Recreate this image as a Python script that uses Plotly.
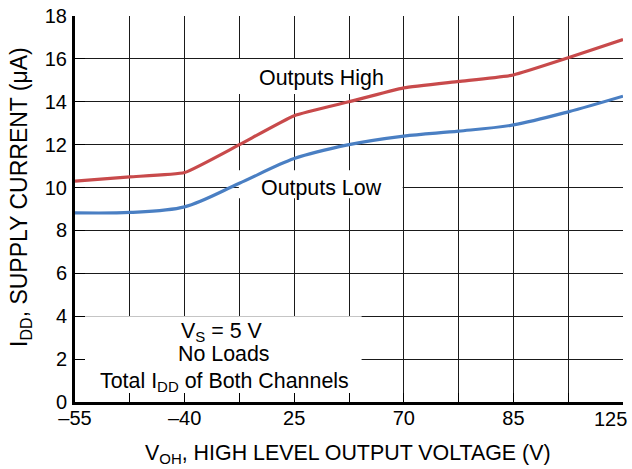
import plotly.graph_objects as go

# x positions are grid-column indices (0..10); labelled every second column
x_pos = [0, 1, 2, 3, 4, 5, 6, 7, 8, 9, 10]
tick_labels = ["–55", "", "–40", "", "25", "", "70", "", "85", "", ""]
last_tick_label = "125"
outputs_high = [10.3, 10.5, 10.7, 12.0, 13.35, 14.0, 14.65, 14.95, 15.25, 16.05, 16.9]
outputs_low = [8.82, 8.84, 9.1, 10.2, 11.35, 12.0, 12.4, 12.63, 12.92, 13.53, 14.26]
y_ticks = [0, 2, 4, 6, 8, 10, 12, 14, 16, 18]

FONT = "Liberation Sans, Arial, sans-serif"

fig = go.Figure()
fig.add_trace(go.Scatter(x=x_pos, y=outputs_high, mode="lines",
                         line=dict(color="#C84A4B", width=3.2, shape="spline", smoothing=0.4),
                         showlegend=False, hoverinfo="skip"))
fig.add_trace(go.Scatter(x=x_pos, y=outputs_low, mode="lines",
                         line=dict(color="#4A7FC3", width=3.2, shape="spline", smoothing=0.9),
                         showlegend=False, hoverinfo="skip"))

# white label boxes covering grid lines
boxes = [(0, 0, 5.23, 4.0), (2.99, 14.36, 5.98, 15.99), (2.99, 9.5, 5.98, 10.81)]
for x0, y0, x1, y1 in boxes:
    fig.add_shape(type="rect", x0=x0, x1=x1, y0=y0, y1=y1, xref="x", yref="y",
                  fillcolor="white", line=dict(width=0), layer="between")

ann_font = dict(size=21.4, color="black", family=FONT)
fig.add_annotation(x=4.49, y=15.1, text="Outputs High", showarrow=False, font=ann_font)
fig.add_annotation(x=4.49, y=10.0, text="Outputs Low", showarrow=False, font=ann_font)
fig.add_annotation(x=2.68, y=3.27, text="V<sub>S</sub> = 5 V", showarrow=False, font=ann_font)
fig.add_annotation(x=2.71, y=2.25, text="No Loads", showarrow=False, font=ann_font)
fig.add_annotation(x=2.72, y=0.92, text="Total I<sub>DD</sub> of Both Channels", showarrow=False, font=ann_font)
# last x tick label, nudged left so it stays inside the page
fig.add_annotation(x=1, y=0, xref="paper", yref="paper", xanchor="right", yanchor="middle",
                   xshift=6, yshift=-16.5, text=last_tick_label, showarrow=False,
                   font=dict(size=20, color="black", family=FONT))
# axis titles
fig.add_annotation(x=0.498, y=0, xref="paper", yref="paper", xanchor="center", yanchor="middle",
                   yshift=-52, text="V<sub>OH</sub>, HIGH LEVEL OUTPUT VOLTAGE (V)", showarrow=False,
                   font=dict(size=21.4, color="black", family=FONT))
fig.add_annotation(x=0, y=0.5, xref="paper", yref="paper", xanchor="center", yanchor="middle",
                   xshift=-55, yshift=12, textangle=-90,
                   text="I<sub>DD</sub>, SUPPLY CURRENT (μA)", showarrow=False,
                   font=dict(size=23, color="black", family=FONT))

fig.update_layout(
    width=632, height=469,
    margin=dict(l=75, r=9, t=16, b=67),
    paper_bgcolor="white", plot_bgcolor="white",
    font=dict(family=FONT, size=20, color="black"),
)
fig.update_xaxes(range=[0, 10], tickvals=x_pos, ticktext=tick_labels, automargin=False,
                 showgrid=True, gridcolor="#1a1a1a", gridwidth=1.3,
                 showline=True, linecolor="black", linewidth=3,
                 ticks="inside", ticklen=9, tickwidth=1.3, tickcolor="black",
                 zeroline=False, tickfont=dict(size=20), ticklabelstandoff=-4)
fig.update_yaxes(range=[0, 18], tickvals=y_ticks, automargin=False,
                 showgrid=True, gridcolor="#1a1a1a", gridwidth=1.3,
                 showline=True, linecolor="black", linewidth=3,
                 ticks="inside", ticklen=10, tickwidth=1.3, tickcolor="black",
                 zeroline=False, tickfont=dict(size=20), ticklabelstandoff=1)

fig.write_html("out.html", config={"displayModeBar": False},
               post_script="document.body.style.margin='0px';")
